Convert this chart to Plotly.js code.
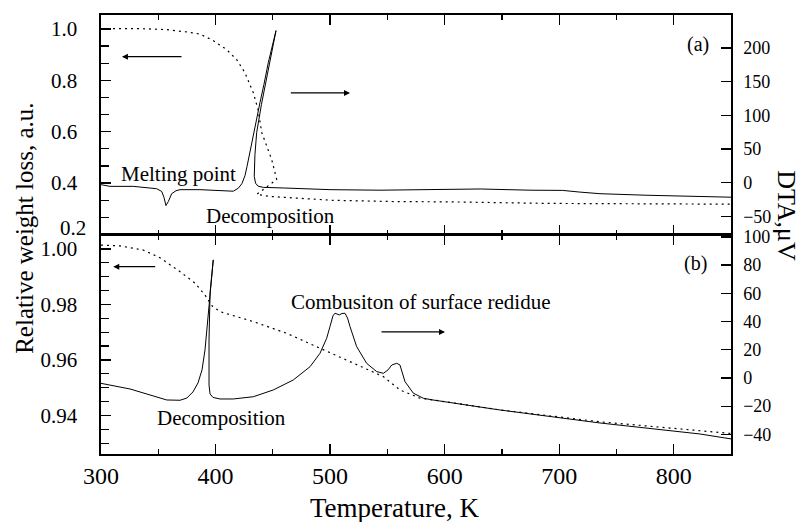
<!DOCTYPE html>
<html>
<head>
<meta charset="utf-8">
<script src="https://cdn.plot.ly/plotly-3.0.1.min.js"></script>
<style>html,body{margin:0;padding:0;background:#fff;}#chart{width:800px;height:522px;}</style>
</head>
<body>
<div id="chart"></div>
<script>
// ---- Panel (a): TG (relative weight) and DTA ----
const tgA_T = [300, 305, 334, 357.4, 374.8, 386.4, 397.8, 409.8, 418.5, 425.7, 433, 437.1, 440.3, 444.7, 449, 453.4, 435.9, 447.5, 473.7, 502.5, 558.2, 604.7, 689.4, 850];
const tgA_W = [1.000, 1.001, 1.001, 0.997, 0.988, 0.980, 0.955, 0.919, 0.880, 0.829, 0.751, 0.686, 0.597, 0.544, 0.492, 0.414, 0.356, 0.348, 0.341, 0.333, 0.328, 0.327, 0.321, 0.318];

const dtaA_T = [300, 307.9, 328.2, 348.6, 353, 355, 356.7, 358.8, 361.7, 365.5, 369, 386.4,
  415.5, 419.9, 423, 425.7, 427.5, 430, 432.1, 435.3, 438.8, 442.3, 446.1, 452.8,
  448.4, 444.1, 440.1, 435.9, 434.4, 433.8, 434.9, 437.1, 441.7, 459.2,
  500, 543.6, 602, 631, 674.5, 703, 718, 735.6, 776.7, 820, 850];
const dtaA_D = [-3, -5.5, -5.5, -9, -13, -22, -34, -28, -16.4, -12, -10.4, -10.4,
  -12.7, -8.2, -1.5, 10.4, 24.3, 46.3, 64.2, 94, 119, 146.3, 178.7, 225.8,
  189.5, 153.7, 116.4, 74.2, 41.8, 9.4, -0.7, -5.2, -7, -7.9,
  -10.4, -11.2, -9.4, -9.4, -11.2, -11.5, -14, -16.4, -18.7, -20.4, -21.6];

// ---- Panel (b): TG (relative weight) and DTA ----
const tgB_T = [300, 316.6, 336.9, 351.5, 369, 382, 390.8, 396.9, 403.9, 433, 462.1, 491.2, 517.4, 546.5, 561, 578.5, 589.8, 648.3, 735.6, 850];
const tgB_W = [1.0014, 1.0011, 0.9996, 0.9968, 0.9918, 0.9877, 0.9834, 0.9795, 0.9774, 0.9738, 0.9696, 0.9642, 0.9594, 0.9540, 0.9492, 0.9462, 0.9456, 0.9420, 0.9377, 0.9335];

const dtaB_T = [300, 325.3, 357.4, 369, 375, 380.3, 384.7, 388.2, 390.8, 393.4, 395.6, 396.9, 398,
  395.2, 394.3, 394.3, 395.2, 397.8, 403.9, 415.5, 433, 450.4, 467.9, 482.5, 491.2, 497, 499.9,
  502.5, 504.3, 506, 508, 510.4, 513, 515.2, 517.4, 523.2, 531.9, 540.7, 546.5, 550.6, 553.8,
  558.2, 561, 565.4, 572.7, 581.4, 589.8, 648.3, 735.6, 822.9, 850];
const dtaB_D = [-3.8, -7.8, -15.6, -15.8, -14.2, -9.9, -3.5, 5.7, 19.9, 41.1, 62.4, 73, 83.7,
  60.3, 26.9, -5, -11.3, -13.8, -14.9, -14.9, -13.3, -8.5, -1.4, 8.0, 17.5, 28.1, 36.4,
  44, 45.9, 45.4, 44.7, 45.7, 45.9, 42.5, 36.4, 22.2, 10.4, 4.5, 3.3, 5.7, 9.2,
  10.4, 9.2, -2.6, -10.8, -14.4, -15.6, -22.7, -31.9, -39.7, -43.2];

// ---- Tick labels ----
const topLeftTicks = [0.4, 0.6, 0.8, 1.0];
const topLeftTickText = ['0.4', '0.6', '0.8', '1.0'];
const bottomTickLabelTopPanel = '0.2';

// ---- Texts ----
const xTitle = 'Temperature, K';
const yLeftTitle = 'Relative weight loss, a.u.';
const yRightTitle = 'DTA,\u03BCV';
const FONT = "'Liberation Serif', 'Times New Roman', Times, serif";

const dotLine = {color: 'black', width: 1.2, dash: '2px,4px'};
const solidLine = {color: 'black', width: 1};

const traces = [
  {x: tgA_T, y: tgA_W, xaxis: 'x2', yaxis: 'y3', mode: 'lines', line: dotLine, name: 'TG (a)'},
  {x: dtaA_T, y: dtaA_D, xaxis: 'x2', yaxis: 'y4', mode: 'lines', line: solidLine, name: 'DTA (a)'},
  {x: tgB_T, y: tgB_W, xaxis: 'x', yaxis: 'y', mode: 'lines', line: dotLine, name: 'TG (b)'},
  {x: dtaB_T, y: dtaB_D, xaxis: 'x', yaxis: 'y2', mode: 'lines', line: solidLine, name: 'DTA (b)'}
];

const axBase = {
  showgrid: false, zeroline: false, showline: true, linecolor: 'black', linewidth: 1.6,
  ticks: 'inside', tickcolor: 'black', tickwidth: 1.3
};
const xBase = Object.assign({}, axBase, {
  range: [300, 850], tick0: 300, dtick: 100, ticklen: 10, mirror: 'ticks',
  minor: {dtick: 50, ticks: 'inside', ticklen: 5, tickcolor: 'black', tickwidth: 1.2}
});
const annFont = {family: FONT, size: 21, color: 'black'};

const layout = {
  width: 800, height: 522,
  margin: {l: 101, r: 69, t: 15, b: 68},
  paper_bgcolor: 'white', plot_bgcolor: 'white',
  font: {family: FONT, color: 'black'},
  showlegend: false,
  xaxis: Object.assign({}, xBase, {domain: [0, 1], anchor: 'y', tickfont: {family: FONT, size: 24}, ticklabelstandoff: 0}),
  xaxis2: Object.assign({}, xBase, {domain: [0, 1], anchor: 'y3', matches: 'x', showticklabels: false}),
  yaxis: Object.assign({}, axBase, {
    domain: [0, 0.5], anchor: 'x', range: [0.9261, 1.0052], tick0: 0.94, dtick: 0.02, tickformat: '.2f',
    ticklen: 10, tickfont: {family: FONT, size: 21}, ticklabelstandoff: 18,
    minor: {tick0: 0.94, dtick: 0.005, ticks: 'inside', ticklen: 8, tickcolor: 'black', tickwidth: 1.2}
  }),
  yaxis2: Object.assign({}, axBase, {
    overlaying: 'y', side: 'right', anchor: 'x', range: [-53.9, 101.7], tick0: 0, dtick: 20,
    ticklen: 10, tickfont: {family: FONT, size: 18}, ticklabelstandoff: 7
  }),
  yaxis3: Object.assign({}, axBase, {
    domain: [0.5, 1], anchor: 'x2', range: [0.2, 1.054], tickmode: 'array',
    tickvals: topLeftTicks, ticktext: topLeftTickText,
    ticklen: 10, tickfont: {family: FONT, size: 21}, ticklabelstandoff: 18,
    minor: {tick0: 0.2, dtick: 0.2 / 3, ticks: 'inside', ticklen: 8, tickcolor: 'black', tickwidth: 1.2}
  }),
  yaxis4: Object.assign({}, axBase, {
    overlaying: 'y3', side: 'right', anchor: 'x2', range: [-77, 249], tick0: 0, dtick: 50,
    ticklen: 10, tickfont: {family: FONT, size: 18}, ticklabelstandoff: 7
  }),
  annotations: [
    // axis titles
    {text: yLeftTitle, xref: 'paper', yref: 'paper', x: -0.1206, y: 0.513, showarrow: false,
     textangle: -90, font: {family: FONT, size: 25}, xanchor: 'center', yanchor: 'middle'},
    {text: xTitle, xref: 'paper', yref: 'paper', x: 0.4667, y: -0.1229, showarrow: false,
     font: {family: FONT, size: 27}, xanchor: 'center', yanchor: 'middle'},
    {text: yRightTitle, xref: 'paper', yref: 'paper', x: 1.0889, y: 0.5438, showarrow: false,
     textangle: 90, font: {family: FONT, size: 26}, xanchor: 'center', yanchor: 'middle'},
    // lowest tick label of panel (a), lifted clear of the panel (b) labels as in the original
    {text: bottomTickLabelTopPanel, xref: 'paper', yref: 'paper', x: -0.0206, y: 0.5142, showarrow: false,
     font: {family: FONT, size: 21}, xanchor: 'right', yanchor: 'middle'},
    // panel (a)
    {text: '(a)', xref: 'x2', yref: 'y3', x: 821, y: 0.9386, showarrow: false, font: {family: FONT, size: 20}},
    {text: 'Melting point', xref: 'x2', yref: 'y3', x: 367.7, y: 0.4338, showarrow: false, font: annFont},
    {text: 'Decomposition', xref: 'x2', yref: 'y3', x: 448.4, y: 0.2719, showarrow: false, font: annFont},
    {text: '', xref: 'x2', yref: 'y3', axref: 'x2', ayref: 'y3', x: 318.3, y: 0.892, ax: 371.6, ay: 0.892,
     showarrow: true, arrowhead: 2, arrowsize: 1, arrowwidth: 1.2, arrowcolor: 'black'},
    {text: '', xref: 'x2', yref: 'y3', axref: 'x2', ayref: 'y3', x: 517.4, y: 0.751, ax: 464.4, ay: 0.751,
     showarrow: true, arrowhead: 2, arrowsize: 1, arrowwidth: 1.2, arrowcolor: 'black'},
    // panel (b)
    {text: '(b)', xref: 'x', yref: 'y', x: 818.6, y: 0.9946, showarrow: false, font: {family: FONT, size: 20}},
    {text: 'Combusiton of surface redidue', xref: 'x', yref: 'y', x: 579.4, y: 0.9810, showarrow: false, font: annFont},
    {text: 'Decomposition', xref: 'x', yref: 'y', x: 405.4, y: 0.9390, showarrow: false, font: annFont},
    {text: '', xref: 'x', yref: 'y', axref: 'x', ayref: 'y', x: 310.7, y: 0.9936, ax: 348.6, ay: 0.9936,
     showarrow: true, arrowhead: 2, arrowsize: 1, arrowwidth: 1.2, arrowcolor: 'black'},
    {text: '', xref: 'x', yref: 'y', axref: 'x', ayref: 'y', x: 600.3, y: 0.9701, ax: 543.6, ay: 0.9701,
     showarrow: true, arrowhead: 2, arrowsize: 1, arrowwidth: 1.2, arrowcolor: 'black'}
  ]
};

Plotly.newPlot('chart', traces, layout, {staticPlot: true, displayModeBar: false});
</script>
</body>
</html>
